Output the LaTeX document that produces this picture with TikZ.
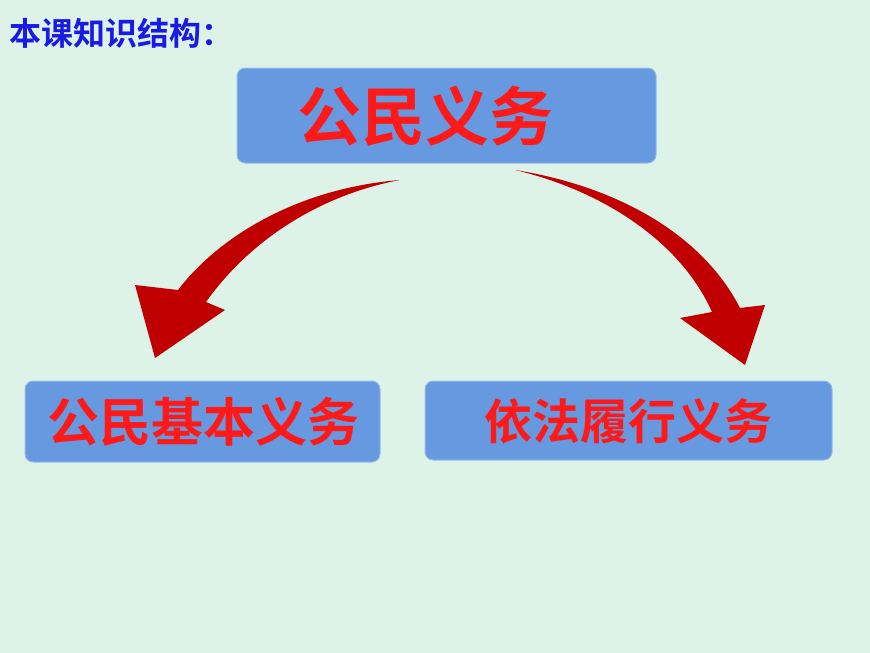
\documentclass[tikz,border=0pt]{standalone}
\usepackage{fontspec}
\newfontfamily\cjk{Noto Sans CJK SC Bold}
\definecolor{bg}{HTML}{DDF3E8}
\definecolor{boxb}{HTML}{6699E0}
\definecolor{boxe}{HTML}{9BBBEB}
\definecolor{ttl}{HTML}{1A1AE6}
\definecolor{arr}{HTML}{C00000}
\definecolor{txt}{HTML}{FF1A1A}
\begin{document}
\begin{tikzpicture}[x=1pt,y=-1pt,
  bx/.style={draw=boxe,line width=1pt,fill=boxb,rounded corners=8pt},
  lbl/.style={text=txt,font=\cjk}]
\fill[bg] (0,0) rectangle (870,653);
\useasboundingbox (0,0) rectangle (870,653);
\node[anchor=west,text=ttl,font=\cjk\fontsize{32}{34}\selectfont,inner sep=0pt] (title) at (9,33) {本课知识结构：};
\draw[bx] (237,68) rectangle (656,163);
\node[lbl,font=\cjk\fontsize{64}{66}\selectfont] (top) at (425,116) {公民义务};
\draw[bx] (25,381) rectangle (380,462);
\node[lbl,font=\cjk\fontsize{52}{54}\selectfont] (l) at (203,422) {公民基本义务};
\draw[bx] (425,381) rectangle (832,460);
\node[lbl,font=\cjk\fontsize{48}{50}\selectfont] (r) at (628,421) {依法履行义务};
\fill[arr] (400,180) .. controls (300,188) and (220,235) .. (178,290) -- (135,285) -- (155,358) -- (225,310) -- (206,302) .. controls (250,240) and (320,195) .. (400,180) -- cycle;
\fill[arr] (515,170) .. controls (600,190) and (680,240) .. (712,312) -- (680,318) -- (745,365) -- (765,305) -- (740,308) .. controls (700,230) and (610,185) .. (515,170) -- cycle;
\end{tikzpicture}
\end{document}
